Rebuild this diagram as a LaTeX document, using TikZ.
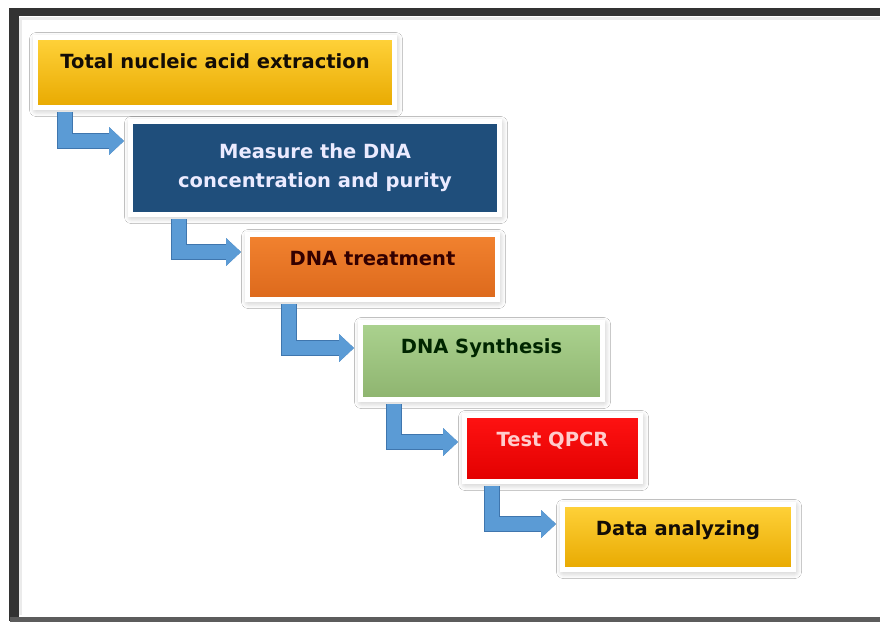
\documentclass[tikz,border=0pt]{standalone}
\usepackage{fontspec}
\setmainfont{DejaVu Sans}
\usetikzlibrary{arrows.meta,shadows.blur}
\definecolor{goldtop}{HTML}{FFD23A}
\definecolor{goldbot}{HTML}{E8A900}
\definecolor{bluebox}{HTML}{1F4E7B}
\definecolor{orangetop}{HTML}{F2822F}
\definecolor{orangebot}{HTML}{DC691C}
\definecolor{greentop}{HTML}{ABD28F}
\definecolor{greenbot}{HTML}{8EB46F}
\definecolor{redtop}{HTML}{FF1212}
\definecolor{redbot}{HTML}{E20000}
\definecolor{flowblue}{HTML}{5B9BD5}
\definecolor{flowedge}{HTML}{3F76AE}
\definecolor{framegray}{HTML}{333333}
\tikzset{
  stepbox/.style={rectangle, draw=white, line width=5pt, font=\fontsize{19.5}{29}\selectfont\bfseries,
    align=center, blur shadow={shadow xshift=1pt, shadow yshift=-2pt, shadow blur radius=7pt, shadow blur steps=16, shadow opacity=30}},
  toptext/.style={inner ysep=0pt, text height=31pt, text depth=#1},
  flow/.style={flowblue, line width=14pt, line join=miter, shorten >=4pt,
    -{Triangle[width=27pt,length=15pt]}, preaction={draw=flowedge, line width=16pt, -{Triangle[width=27pt,length=15pt]}}}
}
\begin{document}
\begin{tikzpicture}[x=1pt,y=-1pt]
\useasboundingbox (0,0) rectangle (880,621);
\fill[white] (0,0) rectangle (880,621);

\draw[framegray, line width=8pt] (10,12) -- (880,12);
\draw[framegray, line width=10pt] (14,8) -- (14,621);
\draw[framegray!80, line width=5pt] (10,619) -- (880,619);
\draw[black!8, line width=3pt] (20,18.5) -- (880,18.5);
\draw[black!8, line width=3pt] (20.5,18) -- (20.5,615);

\node[stepbox, toptext=39pt, minimum width=359pt, top color=goldtop, bottom color=goldbot, text=black!90!brown] (B1) at (215,72.5) {Total nucleic acid extraction};
\node[stepbox, minimum width=369pt, minimum height=93pt, fill=bluebox, text=white!92!blue] (B2) at (315,168) {Measure the DNA\\concentration and purity};
\node[stepbox, toptext=34pt, minimum width=250pt, top color=orangetop, bottom color=orangebot, text=black!80!red] (B3) at (372.5,267) {DNA treatment};
\node[stepbox, toptext=46pt, minimum width=242pt, top color=greentop, bottom color=greenbot, text=black!85!green] (B4) at (481.5,361) {DNA Synthesis};
\node[stepbox, toptext=35pt, minimum width=176pt, top color=redtop, bottom color=redbot, text=red!20] (B5) at (552.5,448.5) {Test QPCR};
\node[stepbox, toptext=34pt, minimum width=231pt, top color=goldtop, bottom color=goldbot, text=black!90!brown] (B6) at (678,537) {Data analyzing};

\draw[flow] ([xshift=32pt,yshift=-2pt]B1.south west) |- ([yshift=-22pt]B2.north west);
\draw[flow] ([xshift=51pt,yshift=-2pt]B2.south west) |- ([yshift=-20pt]B3.north west);
\draw[flow] ([xshift=44pt,yshift=-2pt]B3.south west) |- ([yshift=-28pt]B4.north west);
\draw[flow] ([xshift=36pt,yshift=-2pt]B4.south west) |- ([yshift=-29pt]B5.north west);
\draw[flow] ([xshift=30pt,yshift=-2pt]B5.south west) |- ([yshift=-22pt]B6.north west);
\end{tikzpicture}
\end{document}
